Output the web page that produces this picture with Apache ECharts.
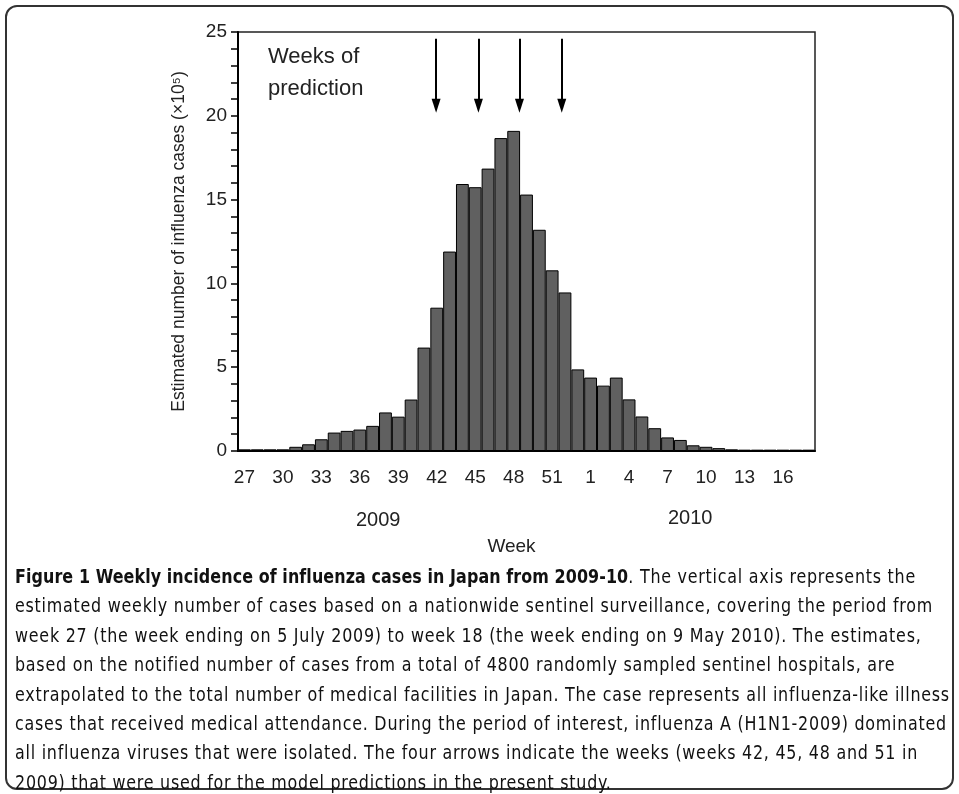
<!DOCTYPE html>
<html>
<head>
<meta charset="utf-8">
<script src="https://cdn.jsdelivr.net/npm/echarts@6/dist/echarts.min.js"></script>
<style>
  html, body { margin: 0; padding: 0; background: #fff; }
  #frame {
    position: absolute; left: 5px; top: 5px; width: 945px; height: 781px;
    border: 2px solid #333; border-radius: 12px;
  }
  #chart { position: absolute; left: 0; top: 0; width: 959px; height: 570px; }
  #caption {
    position: absolute; left: 15px; top: 562px;
    font-family: "DejaVu Sans Condensed", "Liberation Sans Narrow", sans-serif;
    font-size: 20px; line-height: 29.4px; color: #111; white-space: nowrap;
    letter-spacing: 0.85px;
    transform: scaleX(0.885); transform-origin: 0 0;
  }
  #caption b { letter-spacing: 0.1px; }
</style>
</head>
<body>
<div id="frame"></div>
<div id="chart"></div>
<div id="caption">
<b>Figure 1 Weekly incidence of influenza cases in Japan from 2009-10</b>. The vertical axis represents the<br>
estimated weekly number of cases based on a nationwide sentinel surveillance, covering the period from<br>
week 27 (the week ending on 5 July 2009) to week 18 (the week ending on 9 May 2010). The estimates,<br>
based on the notified number of cases from a total of 4800 randomly sampled sentinel hospitals, are<br>
extrapolated to the total number of medical facilities in Japan. The case represents all influenza-like illness<br>
cases that received medical attendance. During the period of interest, influenza A (H1N1-2009) dominated<br>
all influenza viruses that were isolated. The four arrows indicate the weeks (weeks 42, 45, 48 and 51 in<br>
2009) that were used for the model predictions in the present study.
</div>
<script>
// week numbers, 2009 wk27 .. 2010 wk18
var weeks = ['27','28','29','30','31','32','33','34','35','36','37','38','39','40',
  '41','42','43','44','45','46','47','48','49','50','51','52','53',
  '1','2','3','4','5','6','7','8','9','10','11','12','13','14','15','16','17','18'];
// estimated cases (x10^5)
var cases = [0.1,0.1,0.1,0.1,0.25,0.4,0.7,1.1,1.2,1.28,1.5,2.3,2.05,3.07,
  6.17,8.55,11.9,15.93,15.74,16.85,18.67,19.1,15.3,13.2,10.78,9.46,4.87,
  4.38,3.9,4.38,3.08,2.06,1.36,0.81,0.66,0.34,0.25,0.17,0.1,0.08,0.08,0.08,0.08,0.08,0.08];
// arrows for weeks 42, 45, 48, 51 -- position in bar units (bar i spans i..i+1), as drawn
var arrowPos = [15.45, 18.75, 21.95, 25.25];
var arrowFrom = 24.6, arrowTo = 20.6;

var arrows = arrowPos.map(function (p) {
  return [{ coord: [p, arrowFrom], symbol: 'none' },
          { coord: [p, arrowTo], symbol: 'triangle', symbolSize: [9, 14], symbolRotate: 180 }];
});

var chart = echarts.init(document.getElementById('chart'));
var font = 'Liberation Sans, Arial, sans-serif';
chart.setOption({
  animation: false,
  grid: { left: 238, top: 32, right: 144, bottom: 119, show: true, borderColor: '#222', borderWidth: 1.5 },
  xAxis: [{
    type: 'category',
    data: weeks,
    name: 'Week', nameLocation: 'middle', nameGap: 86,
    nameTextStyle: { fontFamily: font, fontSize: 19, color: '#222', padding: [0, 30, 0, 0] },
    axisLine: { lineStyle: { color: '#000', width: 2 } },
    axisTick: { interval: 0, length: 7, lineStyle: { color: '#000', width: 1.5 } },
    axisLabel: { interval: 2, margin: 17, fontFamily: font, fontSize: 19, color: '#222' }
  }, {
    type: 'value', min: 0, max: weeks.length, show: false
  }],
  yAxis: {
    type: 'value', min: 0, max: 25, interval: 5,
    name: 'Estimated number of influenza cases (×10⁵)', nameLocation: 'middle', nameGap: 50,
    nameTextStyle: { fontFamily: font, fontSize: 17.5, color: '#222' },
    axisLine: { show: true, lineStyle: { color: '#000', width: 2 } },
    axisTick: { show: true, length: 7, lineStyle: { color: '#000', width: 1.5 } },
    minorTick: { show: true, splitNumber: 5, length: 7, lineStyle: { color: '#000', width: 1.5 } },
    splitLine: { show: false },
    axisLabel: { margin: 11, fontFamily: font, fontSize: 19, color: '#222' }
  },
  graphic: [
    { type: 'text', left: 268, top: 46, style: { text: 'Weeks of', font: '22px ' + font, fill: '#222' } },
    { type: 'text', left: 268, top: 78, style: { text: 'prediction', font: '22px ' + font, fill: '#222' } },
    { type: 'text', left: 356, top: 510, style: { text: '2009', font: '20px ' + font, fill: '#222' } },
    { type: 'text', left: 668, top: 508, style: { text: '2010', font: '20px ' + font, fill: '#222' } }
  ],
  series: [{
    type: 'bar',
    data: cases,
    barCategoryGap: '0%',
    itemStyle: { color: '#606060', borderColor: '#000', borderWidth: 1 }
  }, {
    type: 'scatter',
    xAxisIndex: 1,
    data: [],
    markLine: {
      silent: true,
      label: { show: false },
      lineStyle: { color: '#000', width: 2, type: 'solid' },
      data: arrows
    }
  }]
});
</script>
</body>
</html>
